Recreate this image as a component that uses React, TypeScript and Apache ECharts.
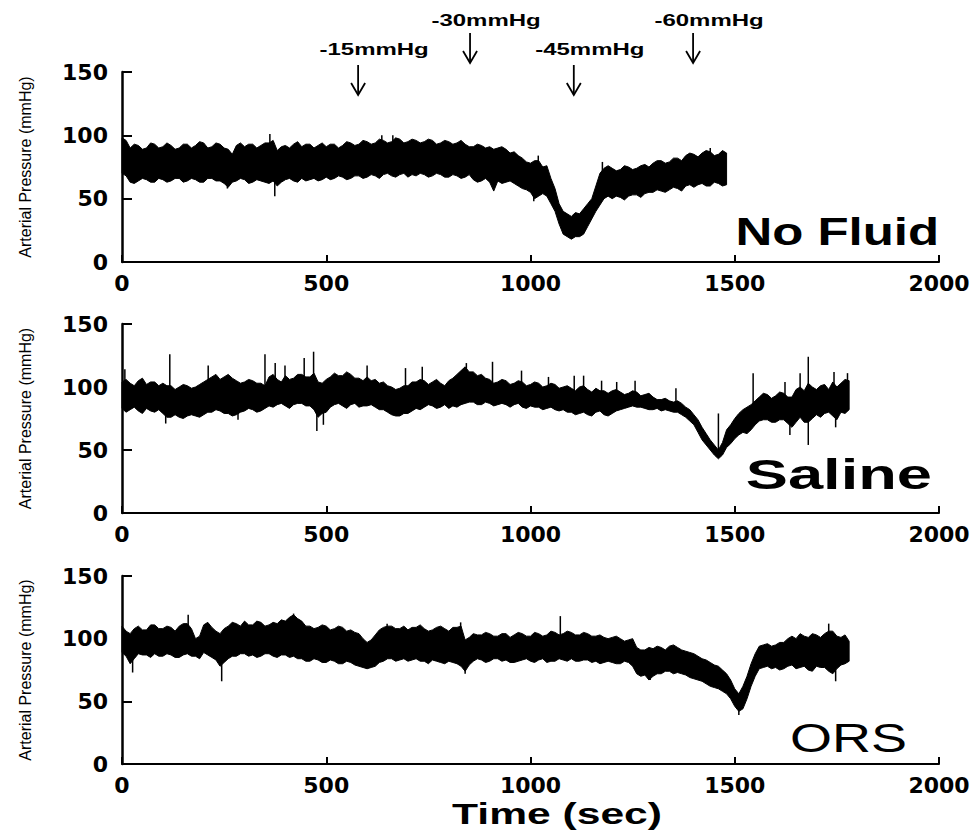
import React, { useEffect, useRef } from "react";
import * as echarts from "echarts";

// Sampling step (seconds) of the envelope readings below
const SAMPLE_STEP = 10;

// Axis ticks
const X_MIN = 0;
const X_MAX = 2000;
const X_INTERVAL = 500;
const Y_MIN = 0;
const Y_MAX = 150;
const Y_INTERVAL = 50;

// Panel titles
const panelNames = ["No Fluid", "Saline", "ORS"];

// ---- No Fluid: upper / lower envelope every 10 s, t = 0 .. 1480 ----
const noFluidHigh = [
  98, 96, 90, 93, 92, 89, 90, 94, 93, 90,
  91, 94, 92, 89, 90, 93, 93, 90, 92, 95,
  94, 90, 91, 94, 93, 90, 89, 85, 92, 94,
  91, 93, 93, 90, 92, 94, 94, 96, 88, 91,
  92, 90, 93, 95, 91, 93, 93, 90, 92, 94,
  91, 93, 93, 90, 92, 95, 94, 92, 93, 96,
  95, 93, 94, 97, 96, 94, 95, 98, 97, 94,
  95, 97, 96, 94, 95, 97, 96, 93, 94, 96,
  95, 93, 94, 96, 93, 91, 91, 93, 92, 90,
  91, 89, 90, 91, 89, 86, 87, 84, 82, 79,
  78, 80, 80, 75, 76, 66, 58, 46, 40, 38,
  36, 39, 38, 42, 46, 50, 60, 70, 74, 76,
  74, 72, 73, 76, 75, 73, 74, 76, 77, 75,
  78, 80, 80, 78, 79, 82, 82, 80, 84, 86,
  85, 83, 86, 88, 87, 84, 85, 88, 86,
];
const noFluidLow = [
  70, 68, 63, 62, 64, 66, 65, 63, 63, 66,
  65, 63, 64, 66, 66, 63, 64, 66, 65, 63,
  63, 66, 66, 64, 64, 62, 59, 63, 64, 66,
  65, 62, 63, 65, 64, 63, 62, 64, 60, 63,
  65, 66, 64, 63, 66, 64, 65, 66, 64, 65,
  67, 65, 66, 68, 67, 65, 66, 68, 68, 66,
  67, 69, 68, 66, 69, 70, 68, 67, 69, 70,
  67, 69, 68, 70, 69, 67, 68, 70, 69, 67,
  67, 69, 68, 66, 67, 69, 65, 63, 64, 66,
  63, 56, 64, 62, 63, 64, 62, 60, 58, 57,
  55, 50, 52, 54, 52, 46, 40, 30, 22, 20,
  18, 20, 20, 22, 28, 34, 40, 45, 50, 52,
  50, 52, 51, 49, 52, 53, 53, 51, 54, 55,
  55, 57, 56, 55, 57, 59, 58, 56, 60, 61,
  59, 61, 62, 60, 60, 63, 62, 60, 61,
];
// [time, from, to]
const noFluidSpikes = [
  [258, 66, 58], [362, 90, 101], [374, 66, 52], [636, 92, 100], [663, 92, 100],
  [1008, 58, 48], [1019, 74, 84], [1176, 70, 79], [1440, 84, 90],
];

// ---- Saline: t = 0 .. 1780 ----
const salineHigh = [
  104, 106, 103, 101, 105, 107, 102, 104, 104, 101,
  103, 101, 101, 98, 100, 102, 101, 99, 100, 102,
  104, 106, 108, 110, 106, 108, 110, 107, 105, 103,
  104, 106, 105, 103, 103, 101, 108, 110, 106, 104,
  109, 106, 107, 110, 110, 108, 108, 111, 104, 103,
  106, 108, 111, 109, 109, 112, 110, 107, 107, 105,
  108, 105, 106, 103, 104, 101, 100, 98, 99, 101,
  101, 104, 104, 106, 105, 102, 104, 106, 103, 101,
  105, 107, 110, 113, 116, 112, 112, 109, 110, 107,
  106, 103, 104, 106, 105, 102, 103, 105, 104, 101,
  102, 104, 103, 100, 101, 103, 102, 99, 100, 101,
  99, 97, 100, 101, 98, 96, 99, 97, 97, 95,
  97, 98, 96, 94, 95, 97, 96, 93, 94, 95,
  92, 90, 90, 91, 89, 88, 89, 87, 84, 82,
  78, 74, 68, 63, 58, 54, 50, 56, 66, 70,
  75, 79, 82, 84, 86, 89, 92, 95, 94, 91,
  93, 96, 95, 92, 92, 98, 100, 97, 103, 100,
  98, 101, 102, 98, 104, 100, 103, 106, 105,
];
const salineLow = [
  83, 80, 82, 84, 81, 79, 83, 81, 80, 82,
  79, 76, 76, 78, 76, 75, 77, 78, 77, 76,
  78, 80, 80, 82, 81, 79, 79, 77, 78, 80,
  81, 83, 82, 80, 81, 83, 85, 84, 86, 87,
  85, 83, 86, 87, 87, 85, 85, 82, 76, 79,
  80, 84, 86, 87, 85, 83, 86, 87, 84, 85,
  85, 86, 84, 82, 82, 80, 78, 77, 77, 79,
  79, 81, 83, 82, 84, 86, 85, 83, 84, 86,
  83, 85, 84, 86, 87, 88, 88, 86, 86, 88,
  87, 85, 86, 87, 86, 84, 86, 87, 84, 83,
  85, 84, 84, 82, 83, 84, 82, 81, 82, 80,
  80, 78, 79, 80, 78, 77, 80, 81, 78, 77,
  79, 81, 82, 83, 84, 85, 84, 84, 83, 82,
  82, 83, 81, 82, 81, 80, 80, 78, 76, 73,
  70, 64, 58, 54, 50, 46, 43, 46, 52, 55,
  59, 62, 64, 63, 66, 70, 73, 74, 74, 72,
  72, 74, 74, 71, 68, 72, 76, 72, 72, 75,
  78, 76, 79, 80, 77, 74, 80, 79, 82,
];
const salineSpikes = [
  [7, 100, 114], [107, 80, 71], [117, 100, 126], [211, 100, 117], [284, 80, 74],
  [350, 100, 126], [375, 100, 119], [399, 100, 117], [446, 100, 123], [469, 100, 128],
  [477, 80, 65], [493, 80, 70], [600, 100, 117], [694, 95, 115], [735, 100, 116],
  [843, 105, 119], [907, 100, 120], [978, 98, 113], [1044, 98, 108], [1107, 96, 109],
  [1130, 95, 109], [1174, 95, 105], [1211, 93, 104], [1256, 93, 105], [1356, 88, 99],
  [1460, 50, 79], [1545, 85, 111], [1623, 92, 104], [1635, 72, 62], [1660, 95, 111],
  [1680, 100, 124], [1680, 74, 54], [1743, 100, 112], [1747, 78, 68], [1776, 100, 111],
];

// ---- ORS: t = 0 .. 1780 ----
const orsHigh = [
  110, 106, 104, 108, 110, 107, 107, 111, 111, 108,
  108, 110, 109, 106, 110, 112, 112, 108, 100, 102,
  111, 113, 109, 106, 104, 108, 110, 113, 112, 110,
  114, 111, 111, 114, 113, 110, 111, 113, 112, 115,
  114, 117, 119, 116, 114, 110, 110, 108, 109, 111,
  110, 107, 108, 110, 109, 106, 107, 105, 104, 100,
  97, 99, 103, 107, 109, 110, 110, 108, 108, 110,
  107, 109, 109, 111, 108, 106, 107, 109, 110, 108,
  106, 109, 109, 110, 99, 101, 104, 103, 103, 105,
  104, 102, 102, 104, 104, 101, 103, 105, 104, 102,
  102, 105, 104, 102, 103, 106, 105, 103, 104, 106,
  105, 103, 103, 105, 104, 102, 102, 103, 101, 100,
  101, 102, 100, 98, 99, 100, 93, 91, 91, 93,
  92, 94, 93, 91, 94, 95, 93, 91, 90, 89,
  88, 86, 84, 83, 81, 79, 78, 75, 72, 67,
  60, 56, 62, 70, 80, 88, 94, 95, 96, 94,
  95, 97, 97, 100, 102, 100, 104, 102, 101, 104,
  103, 101, 104, 106, 106, 102, 101, 103, 98,
];
const orsLow = [
  89, 86, 80, 84, 88, 87, 87, 85, 88, 86,
  86, 88, 87, 85, 85, 87, 88, 86, 86, 84,
  89, 87, 85, 83, 78, 81, 84, 86, 86, 88,
  88, 86, 87, 85, 86, 88, 88, 86, 85, 87,
  87, 85, 86, 84, 84, 82, 82, 84, 83, 81,
  81, 83, 82, 80, 80, 82, 81, 79, 78, 77,
  76, 77, 78, 81, 82, 84, 84, 82, 83, 84,
  82, 83, 84, 82, 82, 80, 83, 82, 81, 80,
  82, 81, 80, 78, 74, 79, 82, 84, 83, 81,
  82, 84, 84, 82, 83, 81, 81, 82, 83, 84,
  82, 81, 83, 84, 81, 82, 82, 84, 83, 82,
  84, 82, 82, 83, 83, 81, 82, 80, 81, 82,
  81, 80, 80, 82, 81, 78, 72, 70, 71, 67,
  70, 72, 72, 74, 74, 72, 73, 72, 71, 69,
  68, 67, 66, 64, 62, 61, 60, 58, 56, 52,
  46, 42, 44, 52, 62, 70, 76, 77, 78, 76,
  77, 75, 76, 78, 79, 76, 77, 78, 75, 74,
  78, 77, 77, 74, 72, 76, 79, 80, 82,
];
const orsSpikes = [
  [26, 85, 73], [162, 105, 119], [244, 80, 66], [420, 110, 120], [649, 105, 112],
  [829, 105, 113], [840, 78, 72], [1073, 100, 118], [1293, 72, 67], [1510, 55, 39],
  [1730, 100, 112], [1747, 75, 66],
];

// Negative-pressure steps (No Fluid panel)
const annotTimes = [578, 852, 1106, 1398];
const annotLabels = ["-15mmHg", "-30mmHg", "-45mmHg", "-60mmHg"];
const annotRows = [0, 1, 0, 1];

const panels = [
  { high: noFluidHigh, low: noFluidLow, spikes: noFluidSpikes },
  { high: salineHigh, low: salineLow, spikes: salineSpikes },
  { high: orsHigh, low: orsLow, spikes: orsSpikes },
];

const gridLayout = [
  { top: 72, height: 190 },
  { top: 324, height: 189 },
  { top: 576, height: 188 },
];

const SANS = "'Liberation Sans', Arial, Helvetica, sans-serif";
const TICK_FONT = "'DejaVu Sans', 'Liberation Sans', Arial, sans-serif";

function bandSeries(idx: number, high: number[], low: number[], spikes: number[][]) {
  return {
    type: "custom",
    coordinateSystem: "cartesian2d",
    xAxisIndex: idx,
    yAxisIndex: idx,
    silent: true,
    clip: false,
    data: [[0, 0]],
    renderItem: (_params: any, api: any) => {
      const top = high.map((v, i) => api.coord([i * SAMPLE_STEP, v]));
      const bottom = low.map((v, i) => api.coord([i * SAMPLE_STEP, v])).reverse();
      const children: any[] = [
        {
          type: "polygon",
          shape: { points: top.concat(bottom) },
          style: { fill: "#000", stroke: "#000", lineWidth: 1, lineJoin: "miter" },
        },
      ];
      spikes.forEach(([t, a, b]) => {
        const p1 = api.coord([t, a]);
        const p2 = api.coord([t, b]);
        children.push({
          type: "line",
          shape: { x1: p1[0], y1: p1[1], x2: p2[0], y2: p2[1] },
          style: { stroke: "#000", lineWidth: 1.5 },
        });
      });
      return { type: "group", children };
    },
  };
}

export default function App() {
  const ref = useRef<HTMLDivElement>(null);

  useEffect(() => {
    if (!ref.current) return;
    const chart = echarts.init(ref.current, undefined, { renderer: "svg" });

    const grids = gridLayout.map((g) => ({
      left: 122,
      width: 817,
      top: g.top,
      height: g.height,
      containLabel: false,
    }));

    const xAxes = gridLayout.map((_, i) => ({
      type: "value",
      gridIndex: i,
      min: X_MIN,
      max: X_MAX,
      interval: X_INTERVAL,
      axisLine: { show: true, lineStyle: { color: "#000", width: 2 } },
      axisTick: { show: true, inside: true, length: 7, lineStyle: { color: "#000", width: 2 } },
      axisLabel: {
        color: "#000",
        fontFamily: TICK_FONT,
        fontWeight: "bold",
        fontSize: 22,
        margin: 10,
        formatter: (v: number) => String(v),
      },
      splitLine: { show: false },
    }));

    const yAxes = gridLayout.map((_, i) => ({
      type: "value",
      gridIndex: i,
      min: Y_MIN,
      max: Y_MAX,
      interval: Y_INTERVAL,
      name: "Arterial Pressure (mmHg)",
      nameLocation: "middle",
      nameGap: 89,
      nameTextStyle: { color: "#000", fontFamily: SANS, fontSize: 16 },
      axisLine: { show: true, lineStyle: { color: "#000", width: 2.5 } },
      axisTick: { show: true, inside: true, length: 10, lineStyle: { color: "#000", width: 2 } },
      axisLabel: {
        color: "#000",
        fontFamily: TICK_FONT,
        fontWeight: "bold",
        fontSize: 22,
        margin: 14,
        formatter: (v: number) => String(v),
      },
      splitLine: { show: false },
    }));

    chart.setOption({
      animation: false,
      backgroundColor: "#fff",
      grid: grids,
      xAxis: xAxes,
      yAxis: yAxes,
      series: panels.map((p, i) => bandSeries(i, p.high, p.low, p.spikes)),
    });

    const graphics: any[] = [];
    const rowGeom = [
      { textY: 50, arrowTop: 65, arrowTip: 95 },
      { textY: 21, arrowTop: 33, arrowTip: 63 },
    ];
    annotTimes.forEach((t, i) => {
      const px = (chart.convertToPixel({ gridIndex: 0 } as any, [t, 0]) as number[])[0];
      const r = rowGeom[annotRows[i]];
      graphics.push({
        type: "text",
        x: px + 16,
        y: r.textY,
        scaleX: 1.5,
        style: {
          text: annotLabels[i],
          fontFamily: SANS,
          fontSize: 16,
          fontWeight: "bold",
          fill: "#000",
          align: "center",
          verticalAlign: "middle",
        },
      });
      graphics.push({
        type: "line",
        shape: { x1: px, y1: r.arrowTop, x2: px, y2: r.arrowTip },
        style: { stroke: "#000", lineWidth: 1.8 },
      });
      graphics.push({
        type: "polyline",
        shape: {
          points: [
            [px - 7, r.arrowTip - 12],
            [px, r.arrowTip],
            [px + 7, r.arrowTip - 12],
          ],
        },
        style: { stroke: "#000", lineWidth: 1.8, fill: null },
      });
    });

    const labelGeom = [
      { x: 939, y: 231.5, size: 38, weight: "bold", sx: 1.34 },
      { x: 932, y: 474, size: 43, weight: "bold", sx: 1.47 },
      { x: 907, y: 738, size: 40, weight: "normal", sx: 1.35 },
    ];
    panelNames.forEach((name, i) => {
      const g = labelGeom[i];
      graphics.push({
        type: "text",
        x: g.x,
        y: g.y,
        scaleX: g.sx,
        style: {
          text: name,
          fontFamily: SANS,
          fontSize: g.size,
          fontWeight: g.weight,
          fill: "#000",
          align: "right",
          verticalAlign: "middle",
        },
      });
    });

    graphics.push({
      type: "text",
      x: 557,
      y: 814,
      scaleX: 1.42,
      style: {
        text: "Time (sec)",
        fontFamily: SANS,
        fontSize: 30,
        fontWeight: "bold",
        fill: "#000",
        align: "center",
        verticalAlign: "middle",
      },
    });

    chart.setOption({ graphic: graphics });

    return () => {
      chart.dispose();
    };
  }, []);

  return (
    <div
      ref={ref}
      style={{ position: "absolute", left: 0, top: 0, width: 980, height: 833, background: "#fff" }}
    />
  );
}
